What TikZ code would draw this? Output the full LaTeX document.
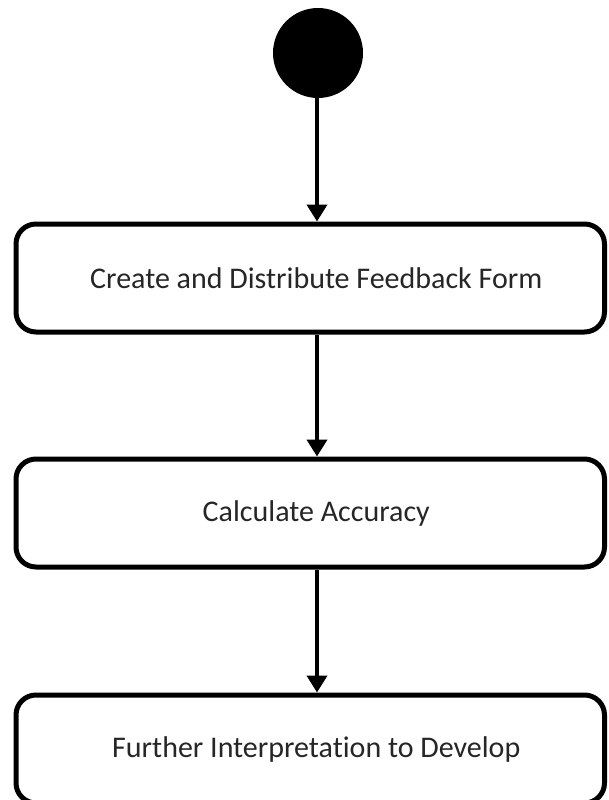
\documentclass[tikz,border=0pt]{standalone}
\usepackage{fontspec}
\setmainfont{Carlito}[Ligatures=NoCommon]
\usetikzlibrary{arrows.meta}
\definecolor{labelgray}{HTML}{262626}
\tikzset{
  activity/.style={draw=black, line width=5pt, rounded corners=20pt, fill=white,
    minimum width=588.5pt, minimum height=108pt, inner sep=0pt,
    font=\fontsize{30}{36}\selectfont, text=labelgray,
    execute at begin node=\hspace*{12pt}},
  startdot/.style={circle, fill=black, minimum size=90pt, inner sep=0pt},
  flow/.style={line width=4pt, -{Triangle[width=20pt,length=17pt]}}
}
\begin{document}
\begin{tikzpicture}[x=1pt,y=-1pt]
  \useasboundingbox (0,0) rectangle (608,800);
  \node[startdot] (start) at (318,53) {};
  \node[activity] (form) at (310.25,278) {Create and Distribute Feedback Form};
  \node[activity] (acc) at (310.25,513) {Calculate Accuracy};
  \node[activity] (interp) at (310.25,749) {Further Interpretation to Develop};
  \draw[flow] (start.south -| 317,0) -- (form.north -| 317,0);
  \draw[flow] (form.south -| 317,0) -- (acc.north -| 317,0);
  \draw[flow] (acc.south -| 317,0) -- (interp.north -| 317,0);
\end{tikzpicture}
\end{document}
